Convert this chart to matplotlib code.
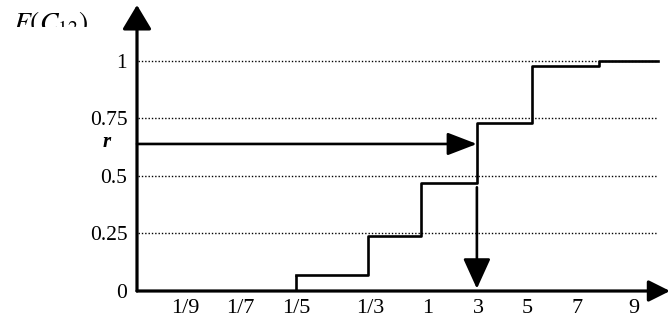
import matplotlib
matplotlib.use("Agg")
import matplotlib.pyplot as plt
from matplotlib.patches import Rectangle

# categories on the x axis and where their labels sit (category units)
categories = ['1/9', '1/7', '1/5', '1/3', '1', '3', '5', '7', '9']
cat_pos = [0, 0.99, 2.0, 3.33, 4.38, 5.28, 6.16, 7.06, 8.09]

# step function F(C12): jump positions and levels
step_x = [2.0, 3.29, 4.25, 5.26, 6.25, 7.46, 8.52]
step_F = [0.07, 0.24, 0.47, 0.73, 0.975, 1.0, 1.0]

y_ticks = [0, 0.25, 0.5, 0.75, 1]
y_labels = ['0', '0.25', '0.5', '0.75', '1']
r_value = 0.638
r_x = 5.26  # where the r line hits the curve (at "3")

plt.rcParams['font.family'] = ['Liberation Serif', 'DejaVu Serif']
plt.rcParams['mathtext.fontset'] = 'stix'

fig = plt.figure(figsize=(6.7, 3.22), dpi=100)
ax = fig.add_axes([137/670, 1 - 291/322, (670 - 137)/670, (291 - 5)/322])
ax.set_xlim(-0.865, 8.74)
ax.set_ylim(0, 1.241)
for s in ax.spines.values():
    s.set_visible(False)

# dotted guide lines
ax.hlines(y_ticks[1:], -0.84, 8.52, colors='black', linestyles=(0, (1, 1.4)), lw=1.0)

# the step curve, starting on the x axis at 1/5
ax.plot([step_x[0], step_x[0]], [0, step_F[0]], color='black', lw=1.9, solid_capstyle='butt')
ax.step(step_x, step_F, where='post', color='black', lw=1.9)

# axes drawn as arrows
ax.annotate('', xy=(1.0, 0), xytext=(0, 0), xycoords='axes fraction',
            arrowprops=dict(arrowstyle='-|>,head_length=1.0,head_width=0.5',
                            mutation_scale=13, color='black', lw=2.3, shrinkA=0, shrinkB=0))
ax.annotate('', xy=(0, 1.0), xytext=(0, 0), xycoords='axes fraction',
            arrowprops=dict(arrowstyle='-|>,head_length=1.0,head_width=0.6',
                            mutation_scale=15, color='black', lw=2.3, shrinkA=0, shrinkB=0))

# r -> curve -> value on the axis
ax.annotate('', xy=(r_x, r_value), xytext=(-0.865, r_value),
            arrowprops=dict(arrowstyle='-|>,head_length=1.3,head_width=0.5',
                            mutation_scale=14, color='black', lw=1.9, shrinkA=0, shrinkB=0))
ax.annotate('', xy=(r_x, 0.01), xytext=(r_x, 0.45),
            arrowprops=dict(arrowstyle='-|>,head_length=1.1,head_width=0.5',
                            mutation_scale=17, color='black', lw=1.9, shrinkA=0, shrinkB=0))

ax.set_xticks(cat_pos)
ax.set_xticklabels(categories, fontsize=16)
ax.set_yticks(y_ticks)
ax.set_yticklabels(y_labels, fontsize=15.5)
ax.tick_params(length=0)
ax.tick_params(axis='x', pad=6)
ax.tick_params(axis='y', pad=7)

ax.text(-1.405, 0.648, 'r', fontsize=15, fontweight='bold', fontstyle='italic',
        ha='center', va='center')

fig.text(13/670, 1 - 9/322, r'$F(C_{12})$', fontsize=20, va='top', ha='left')
# the original label is cut off along its bottom edge
fig.patches.append(Rectangle((0, 1 - 45/322), 115/670, 18/322, transform=fig.transFigure,
                             facecolor='white', edgecolor='none', zorder=5))

fig.savefig('out.png', dpi=100, facecolor='white')
